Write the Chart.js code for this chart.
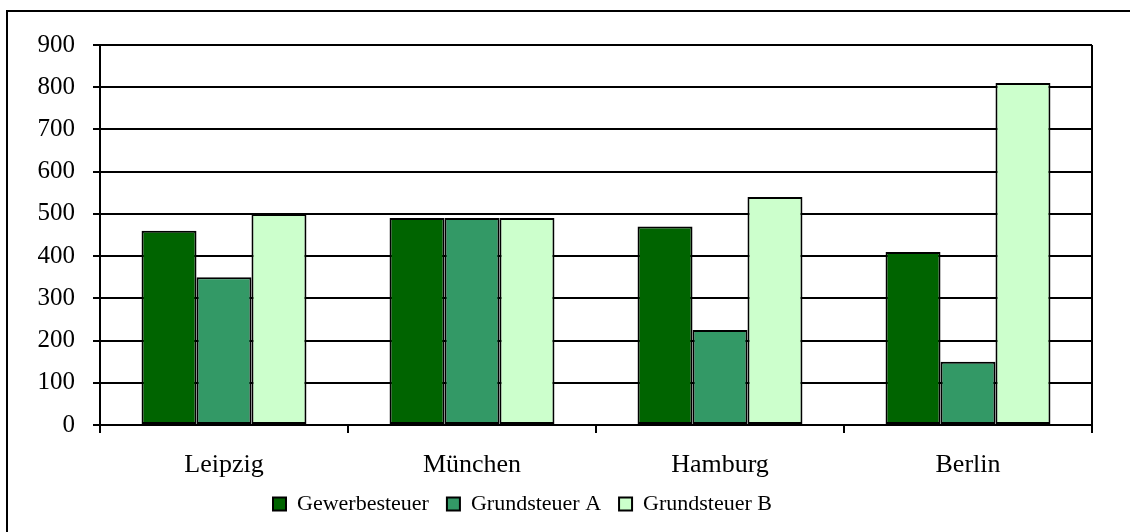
<!DOCTYPE html>
<html lang="de">
<head>
  <meta charset="UTF-8">
  <title>Steuern im Vergleich</title>
  <script src="https://cdn.jsdelivr.net/npm/chart.js"></script>
  <style>
    body { margin: 0; background: #fff; }
    canvas { display: block; }
  </style>
</head>
<body>
  <canvas id="myChart" width="1130" height="532" style="width: 1130px; height: 532px;"></canvas>

  <script>
    // Daten
    const staedte = ['Leipzig', 'München', 'Hamburg', 'Berlin'];
    const gewerbesteuer = [460, 490, 470, 410];
    const grundsteuerA = [350, 490, 225, 150];
    const grundsteuerB = [500, 490, 540, 810];
    const yTicks = [0, 100, 200, 300, 400, 500, 600, 700, 800, 900];

    const serif = "'Liberation Serif', 'DejaVu Serif', serif";

    // Rahmen, rechte Linie und Legendenposition
    const rahmenPlugin = {
      id: 'rahmen',
      beforeDraw(chart) {
        const ctx = chart.ctx;
        ctx.save();
        ctx.fillStyle = '#fff';
        ctx.fillRect(0, 0, chart.width, chart.height);
        ctx.strokeStyle = '#000';
        ctx.lineWidth = 2;
        ctx.beginPath();
        ctx.moveTo(7, chart.height);
        ctx.lineTo(7, 11);
        ctx.lineTo(chart.width, 11);
        ctx.stroke();
        ctx.restore();

        const l = chart.legend;
        const pad = l.options.labels.padding;
        const w = l.lineWidths[0];
        const h = l.height;
        l.left = 273 - pad;
        l.right = 273 + w;
        l.top = 500 - h / 2;
        l.bottom = l.top + h;
      },
      afterDraw(chart) {
        const a = chart.chartArea;
        const ctx = chart.ctx;
        ctx.save();
        ctx.strokeStyle = '#000';
        ctx.lineWidth = 2;
        ctx.beginPath();
        ctx.moveTo(a.right, a.top);
        ctx.lineTo(a.right, a.bottom);
        ctx.stroke();
        ctx.restore();
      }
    };

    const ctx = document.getElementById('myChart').getContext('2d');
    const myChart = new Chart(ctx, {
      type: 'bar',
      data: {
        labels: staedte,
        datasets: [{
          label: 'Gewerbesteuer',
          data: gewerbesteuer,
          backgroundColor: '#006400',
          borderColor: '#000',
          borderWidth: 2,
          borderSkipped: false
        }, {
          label: 'Grundsteuer A',
          data: grundsteuerA,
          backgroundColor: '#339966',
          borderColor: '#000',
          borderWidth: 2,
          borderSkipped: false
        }, {
          label: 'Grundsteuer B',
          data: grundsteuerB,
          backgroundColor: '#CCFFCC',
          borderColor: '#000',
          borderWidth: 2,
          borderSkipped: false
        }]
      },
      options: {
        responsive: false,
        maintainAspectRatio: false,
        animation: false,
        categoryPercentage: 0.665,
        barPercentage: 1.0,
        layout: { padding: { left: 0, top: 45, right: 38, bottom: 0 } },
        plugins: {
          tooltip: { enabled: false },
          legend: {
            position: 'bottom',
            labels: {
              color: '#000',
              font: { family: serif, size: 22 },
              boxWidth: 13,
              boxHeight: 13,
              padding: 18
            }
          }
        },
        scales: {
          x: {
            afterFit(scale) {
              scale.height = 532 - 425 - scale.chart.legend.height;
            },
            grid: {
              offset: true,
              drawOnChartArea: false,
              color: '#000',
              lineWidth: 2,
              tickLength: 8
            },
            border: { color: '#000', width: 2 },
            ticks: {
              color: '#000',
              font: { family: serif, size: 26 },
              padding: 17,
              maxRotation: 0
            }
          },
          y: {
            min: 0,
            max: 900,
            afterFit(scale) {
              scale.width = 100;
            },
            afterBuildTicks(scale) {
              scale.ticks = yTicks.map(v => ({ value: v }));
            },
            grid: {
              color: '#000',
              lineWidth: 2,
              tickLength: 7
            },
            border: { color: '#000', width: 2 },
            ticks: {
              color: '#000',
              font: { family: serif, size: 25 },
              padding: 18
            }
          }
        }
      },
      plugins: [rahmenPlugin]
    });
  </script>
</body>
</html>
